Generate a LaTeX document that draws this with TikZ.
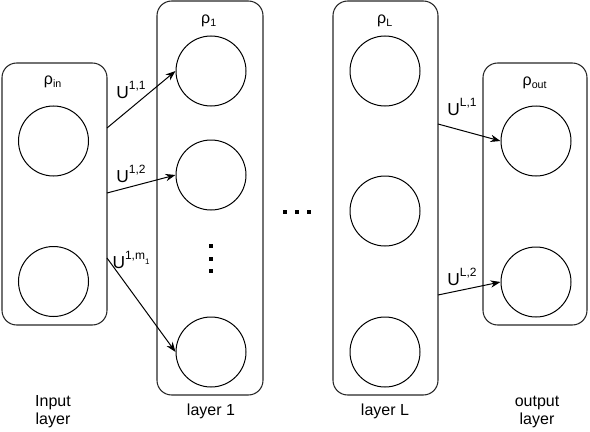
\documentclass[tikz,border=0pt]{standalone}
\usepackage{fontspec}
\setmainfont{Liberation Sans}
\usetikzlibrary{arrows.meta}
\newcommand{\supsc}[1]{\raisebox{0.9ex}{\fontsize{9}{10}\selectfont #1}}
\begin{document}
\begin{tikzpicture}[x=0.75pt,y=-0.75pt,
  layerbox/.style={draw=black!85,line width=0.8pt,rounded corners=11pt,minimum width=#1,inner sep=0pt},
  neuron/.style={draw,circle,line width=0.75pt,minimum size=52.5pt,inner sep=0pt},
  lbl/.style={font=\fontsize{12}{13.5}\selectfont,inner sep=0pt,align=center},
  wlbl/.style={font=\fontsize{13}{14}\selectfont,inner sep=0pt},
  conn/.style={line width=0.75pt,-{Stealth[length=7.5pt,width=5.5pt]}},
  dotsq/.style={fill=black,minimum size=3pt,inner sep=0pt}]
\useasboundingbox (0,0) rectangle (590,432);
% boxes
\node[layerbox=78.75pt,minimum height=196.5pt] (inbox) at (54.5,194) {};
\node[layerbox=79.5pt,minimum height=295.5pt] (l1box) at (210,198) {};
\node[layerbox=78.75pt,minimum height=295.5pt] (lLbox) at (385.5,198) {};
\node[layerbox=78pt,minimum height=196.5pt] (outbox) at (535,194) {};
% box titles
\node[lbl] (tin) at (53,82) {ρ\textsubscript{in}};
\node[lbl] (t1) at (209,21) {ρ\textsubscript{1}};
\node[lbl] (tL) at (385,21) {ρ\textsubscript{L}};
\node[lbl] (tout) at (535,83) {ρ\textsubscript{out}};
% neurons
\node[neuron] (in1) at (53.5,141) {};
\node[neuron] (in2) at (53.5,281.5) {};
\node[neuron] (a1) at (211,71) {};
\node[neuron] (a2) at (211,175) {};
\node[neuron] (a3) at (211,352) {};
\node[neuron] (b1) at (385,71) {};
\node[neuron] (b2) at (385,211) {};
\node[neuron] (b3) at (385,352) {};
\node[neuron] (o1) at (536,141) {};
\node[neuron] (o2) at (536,282) {};
% vertical dots
\node[dotsq] (v1) at (211,246) {};
\node[dotsq] (v2) at (211,258.5) {};
\node[dotsq] (v3) at (211,271) {};
% horizontal dots
\node[dotsq] (h1) at (285,212) {};
\node[dotsq] (h2) at (297,212) {};
\node[dotsq] (h3) at (309,212) {};
% start points on box edges
\coordinate (s1) at (107,128);
\coordinate (s2) at (107,193);
\coordinate (s3) at (107,258);
\coordinate (s4) at (438,124);
\coordinate (s5) at (438,295);
% connectors
\draw[conn] (s1) -- (a1.west);
\draw[conn] (s2) -- (a2.west);
\draw[conn] (s3) -- (a3.west);
\draw[conn] (s4) -- (o1.west);
\draw[conn] (s5) -- (o2.west);
% weight labels
\node[wlbl] (u11) at (131,90) {U\supsc{1,1}};
\node[wlbl] (u12) at (131,174) {U\supsc{1,2}};
\node[wlbl] (u1m) at (131,260) {U\supsc{1,m\raisebox{-0.7ex}{\fontsize{6}{7}\selectfont 1}}};
\node[wlbl] (uL1) at (462,107) {U\supsc{L,1}};
\node[wlbl] (uL2) at (462,277) {U\supsc{L,2}};
% bottom labels
\node[lbl] (bin) at (53,412) {Input\\layer};
\node[lbl] (b1l) at (211,411) {layer 1};
\node[lbl] (bLl) at (385,411) {layer L};
\node[lbl] (bout) at (537,412) {output\\layer};
\end{tikzpicture}
\end{document}
